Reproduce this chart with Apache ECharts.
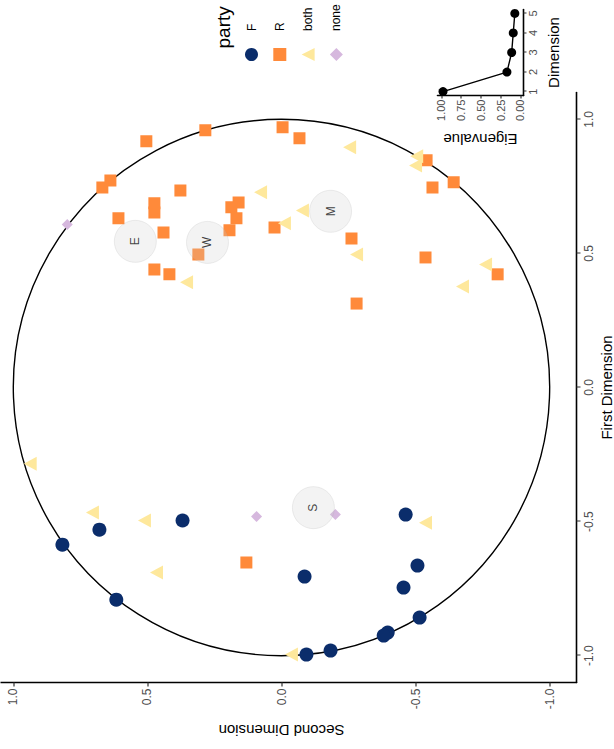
<!DOCTYPE html>
<html><head><meta charset="utf-8">
<script src="https://cdn.jsdelivr.net/npm/echarts@6/dist/echarts.min.js"></script>
<style>
html,body{margin:0;padding:0;width:614px;height:749px;overflow:hidden;background:#fff;}
#chart{position:absolute;width:749px;height:614px;left:-67.5px;top:67.5px;transform:rotate(-90deg);}
</style></head><body><div id="chart"></div>
<script>
// [First Dimension, Second Dimension]
const partyF = [[-0.586,0.817],[-0.530,0.679],[-0.496,0.369],[-0.791,0.616],[-0.705,-0.086],[-0.474,-0.463],[-0.664,-0.507],[-0.746,-0.455],[-0.858,-0.515],[-0.914,-0.396],[-0.925,-0.381],[-0.981,-0.183],[-0.996,-0.093]];
const partyR = [[0.970,-0.004],[0.959,0.284],[0.929,-0.067],[0.918,0.504],[0.772,0.638],[0.746,0.668],[0.735,0.377],[0.847,-0.541],[0.746,-0.563],[0.765,-0.642],[0.687,0.474],[0.653,0.474],[0.690,0.160],[0.672,0.187],[0.631,0.168],[0.631,0.608],[0.578,0.440],[0.586,0.194],[0.597,0.026],[0.556,-0.261],[0.440,0.474],[0.422,0.418],[0.496,0.310],[0.485,-0.537],[0.422,-0.806],[0.313,-0.280],[-0.653,0.131]];
const partyBoth = [[0.896,-0.254],[0.862,-0.504],[0.828,-0.500],[0.728,0.078],[0.660,-0.078],[0.612,-0.011],[0.496,-0.280],[0.392,0.354],[0.459,-0.761],[0.377,-0.675],[-0.284,0.937],[-0.466,0.705],[-0.496,0.511],[-0.690,0.466],[-0.504,-0.537],[-0.996,-0.037]];
const partyNone = [[0.608,0.799],[-0.481,0.093],[-0.474,-0.201]];
const labelNames = ['E','W','M','S'];
const labelPos = [[0.545,0.545],[0.541,0.276],[0.657,-0.183],[-0.448,-0.119]];
const unitCircle = [[0,0,1]];
const mainTicks = [-1,-0.5,0,0.5,1];
const dims = [1,2,3,4,5];
const eigenvalues = [0.98,0.17,0.11,0.09,0.07];
const eigenTicks = [0,0.25,0.5,0.75,1];
const legendNames = ['F','R','both','none'];

const FONT = 'Liberation Sans, Arial, Helvetica, sans-serif';
const chart = echarts.init(document.getElementById('chart'), null, {renderer:'svg'});

function axisCommon(){
  return {
    type:'value', splitLine:{show:false},
    axisLine:{show:true, onZero:false, lineStyle:{color:'#000', width:1.6}},
    nameTextStyle:{fontFamily:FONT, fontSize:15, color:'#000'}
  };
}

chart.setOption({
  backgroundColor:'#fff',
  animation:false,
  grid:[
    {left:67, top:-14, width:590, height:590, containLabel:false, outerBoundsMode:'none'},
    {left:654, top:437, width:86, height:86, containLabel:false, outerBoundsMode:'none'}
  ],
  xAxis:[
    Object.assign(axisCommon(), {gridIndex:0, min:-1.1, max:1.1, name:'First Dimension', nameLocation:'middle', nameGap:22,
      axisTick:{show:true, length:4, customValues:mainTicks, lineStyle:{color:'#333', width:1.2}},
      axisLabel:{customValues:mainTicks, formatter:v=>v.toFixed(1), fontFamily:FONT, fontSize:12, color:'#4d4d4d', margin:6}}),
    Object.assign(axisCommon(), {gridIndex:1, min:0.8, max:5.2, name:'Dimension', nameLocation:'middle', nameGap:22,
      axisTick:{show:true, length:3, customValues:dims, lineStyle:{color:'#333', width:1.2}},
      axisLabel:{customValues:dims, formatter:v=>String(v), fontFamily:FONT, fontSize:11, color:'#4d4d4d', margin:4}})
  ],
  yAxis:[
    Object.assign(axisCommon(), {gridIndex:0, min:-1.1, max:1.1, name:'Second Dimension', nameLocation:'middle', nameGap:40, nameRotate:90,
      axisTick:{show:true, length:4, customValues:mainTicks, lineStyle:{color:'#333', width:1.2}},
      axisLabel:{customValues:mainTicks, formatter:v=>v.toFixed(1), fontFamily:FONT, fontSize:12, color:'#4d4d4d', margin:6}}),
    Object.assign(axisCommon(), {gridIndex:1, min:-0.04, max:1.05, name:'Eigenvalue', nameLocation:'middle', nameGap:36, nameRotate:90,
      axisTick:{show:true, length:3, customValues:eigenTicks, lineStyle:{color:'#333', width:1.2}},
      axisLabel:{customValues:eigenTicks, formatter:v=>v.toFixed(2), fontFamily:FONT, fontSize:11, color:'#4d4d4d', margin:4}})
  ],
  legend:{
    data:legendNames, orient:'vertical', left:683.5, top:239.5,
    itemWidth:13, itemHeight:13, itemGap:15.3,
    textStyle:{fontFamily:FONT, fontSize:12, color:'#000', padding:[0,0,0,12], lineHeight:13},
    selectedMode:false
  },
  graphic:[
    {type:'text', left:701, top:213, style:{text:'party', fontFamily:FONT, fontSize:19, fill:'#000'}}
  ],
  series:[
    {type:'custom', xAxisIndex:0, yAxisIndex:0, data:unitCircle, silent:true, z:1,
      renderItem:(p,api)=>{
        const c = api.coord([api.value(0), api.value(1)]);
        const r = api.size([api.value(2), 0])[0];
        return {type:'circle', shape:{cx:c[0], cy:c[1], r:r}, style:{fill:'none', stroke:'#000', lineWidth:1.4}};
      }},
    {name:'F', type:'scatter', xAxisIndex:0, yAxisIndex:0, data:partyF, symbol:'circle', symbolSize:14, itemStyle:{color:'#0b2d6b', opacity:1}, z:2},
    {name:'R', type:'scatter', xAxisIndex:0, yAxisIndex:0, data:partyR, symbol:'rect', symbolSize:12, itemStyle:{color:'#ff8a3a', opacity:1}, z:2},
    {name:'both', type:'scatter', xAxisIndex:0, yAxisIndex:0, data:partyBoth, symbol:'triangle', symbolSize:[14,13], itemStyle:{color:'#fee89c', opacity:1}, z:2},
    {name:'none', type:'scatter', xAxisIndex:0, yAxisIndex:0, data:partyNone, symbol:'diamond', symbolSize:11, itemStyle:{color:'#d6b8de', opacity:1}, z:2},
    {name:'labels', type:'scatter', xAxisIndex:0, yAxisIndex:0, z:5, symbol:'circle', symbolSize:42,
      data:labelNames.map((n,i)=>({name:n, value:labelPos[i]})),
      itemStyle:{color:'rgba(205,205,205,0.3)', borderColor:'rgba(170,170,170,0.25)', borderWidth:1},
      label:{show:true, position:'inside', formatter:'{b}', fontFamily:FONT, fontSize:12, color:'#111'}},
    {name:'scree', type:'line', xAxisIndex:1, yAxisIndex:1, data:dims.map((d,i)=>[d, eigenvalues[i]]),
      symbol:'circle', symbolSize:9, showSymbol:true, itemStyle:{color:'#000'}, lineStyle:{color:'#000', width:1.4}}
  ]
});
</script></body></html>
